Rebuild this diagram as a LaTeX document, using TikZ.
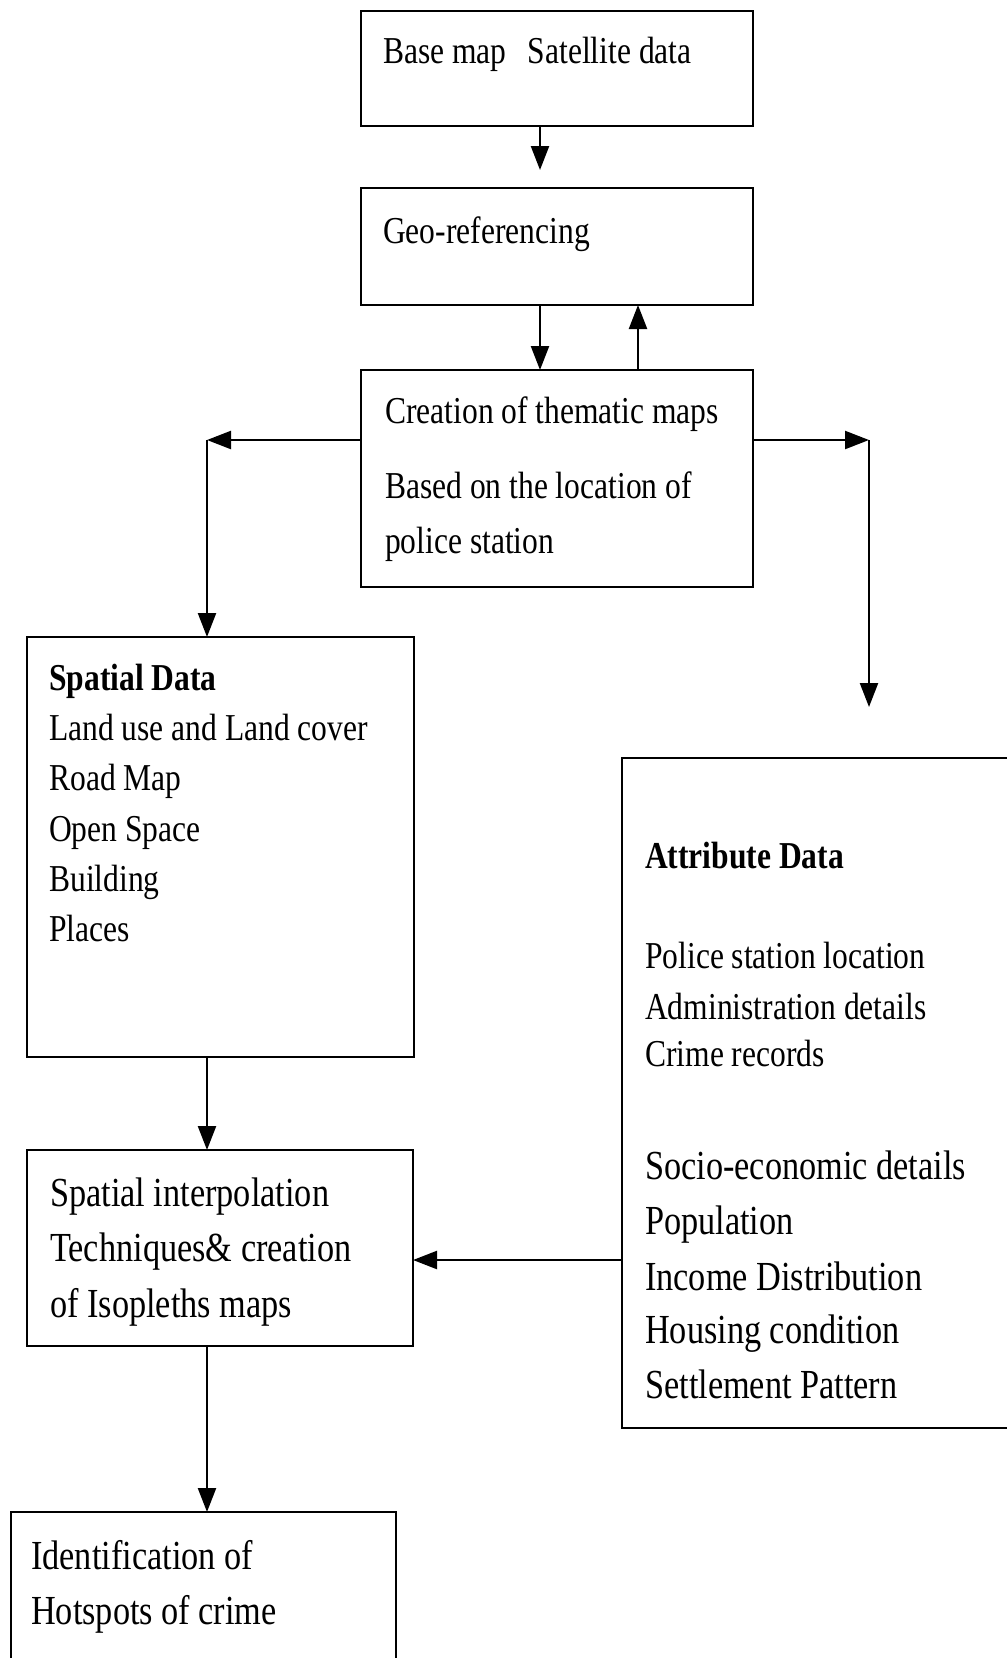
\documentclass[tikz,border=0pt]{standalone}
\usepackage{fontspec}
\setmainfont{Liberation Serif}
\newfontfamily\tnr[FakeStretch=0.83]{Liberation Serif}
\usetikzlibrary{arrows.meta}
\begin{document}
\begin{tikzpicture}[x=1pt,y=-1pt,
  box/.style={draw, line width=2.8pt, inner sep=0pt, outer sep=0pt},
  arr/.style={line width=2.3pt, -{Triangle[length=24pt,width=18pt]}},
  small/.style={anchor=base west, inner sep=0pt, font=\tnr\fontsize{38}{46}\selectfont},
  large/.style={anchor=base west, inner sep=0pt, font=\tnr\fontsize{41.3}{50}\selectfont}]
\path[use as bounding box, fill=white] (0,0) rectangle (1007,1658);
\clip (0,0) rectangle (1007,1658);
% boxes
\node[box, minimum width=392pt, minimum height=115pt] (base) at (557,68.5) {};
\node[box, minimum width=392pt, minimum height=117pt] (geo) at (557,246.5) {};
\node[box, minimum width=392pt, minimum height=217pt] (create) at (557,478.5) {};
\node[box, minimum width=387pt, minimum height=420pt] (spatial) at (220.5,847) {};
\node[box, minimum width=386pt, minimum height=196pt] (interp) at (220,1248) {};
\node[box, minimum width=385pt, minimum height=158pt] (ident) at (203.5,1591) {};
\node[box, minimum width=393pt, minimum height=670pt] (attr) at (818.5,1093) {};
% texts
\node[small] (t1) at (383,63) {Base map\hspace{0.35em} Satellite data};
\node[small] (t2) at (383,243) {Geo-referencing};
\node[small] (t3) at (385,423) {Creation of thematic maps};
\node[small] (t4) at (385,498) {Based on the location of};
\node[small] (t5) at (385,553) {police station};
\node[small, font=\tnr\bfseries\fontsize{38}{46}\selectfont] (sph) at (49,690) {Spatial Data};
\foreach \y/\t [count=\i] in {740/Land use and Land cover, 790/Road Map, 841/Open Space, 891/Building, 941/Places}
  \node[small] (sp\i) at (49,\y) {\t};
\foreach \y/\t [count=\i] in {1206/Spatial interpolation, 1261/Techniques\& creation, 1317/of Isopleths maps}
  \node[large] (ip\i) at (50,\y) {\t};
\foreach \y/\t [count=\i] in {1569/Identification of, 1624/Hotspots of crime}
  \node[large] (id\i) at (31,\y) {\t};
\node[small, font=\tnr\bfseries\fontsize{38}{46}\selectfont] (ath) at (645,868) {Attribute Data};
\foreach \y/\t [count=\i] in {968/Police station location, 1019/Administration details, 1066/Crime records}
  \node[small] (at\i) at (645,\y) {\t};
\foreach \y/\t [count=\i] in {1179/Socio-economic details, 1234/Population, 1290/Income Distribution, 1343/Housing condition, 1398/Settlement Pattern}
  \node[large] (as\i) at (645,\y) {\t};
% connectors
\coordinate (lc) at (207,440);
\coordinate (rc) at (869,440);
\coordinate (ay) at (500,1260);
\draw[arr, shorten >=18pt] ([xshift=-17pt]base.south) -- ([xshift=-17pt]geo.north);
\draw[arr] ([xshift=-17pt]geo.south) -- ([xshift=-17pt]create.north);
\draw[arr] ([xshift=81pt]create.north) -- ([xshift=81pt]geo.south);
\draw[arr] (create.west |- lc) -- (lc);
\draw[arr] (lc) -- (lc |- spatial.north);
\draw[arr] (create.east |- rc) -- (rc);
\draw[arr, shorten >=51pt] (rc) -- (rc |- attr.north);
\draw[arr] (spatial.south -| lc) -- (interp.north -| lc);
\draw[arr] (attr.west |- ay) -- (interp.east |- ay);
\draw[arr] (interp.south -| lc) -- (ident.north -| lc);
\end{tikzpicture}
\end{document}
